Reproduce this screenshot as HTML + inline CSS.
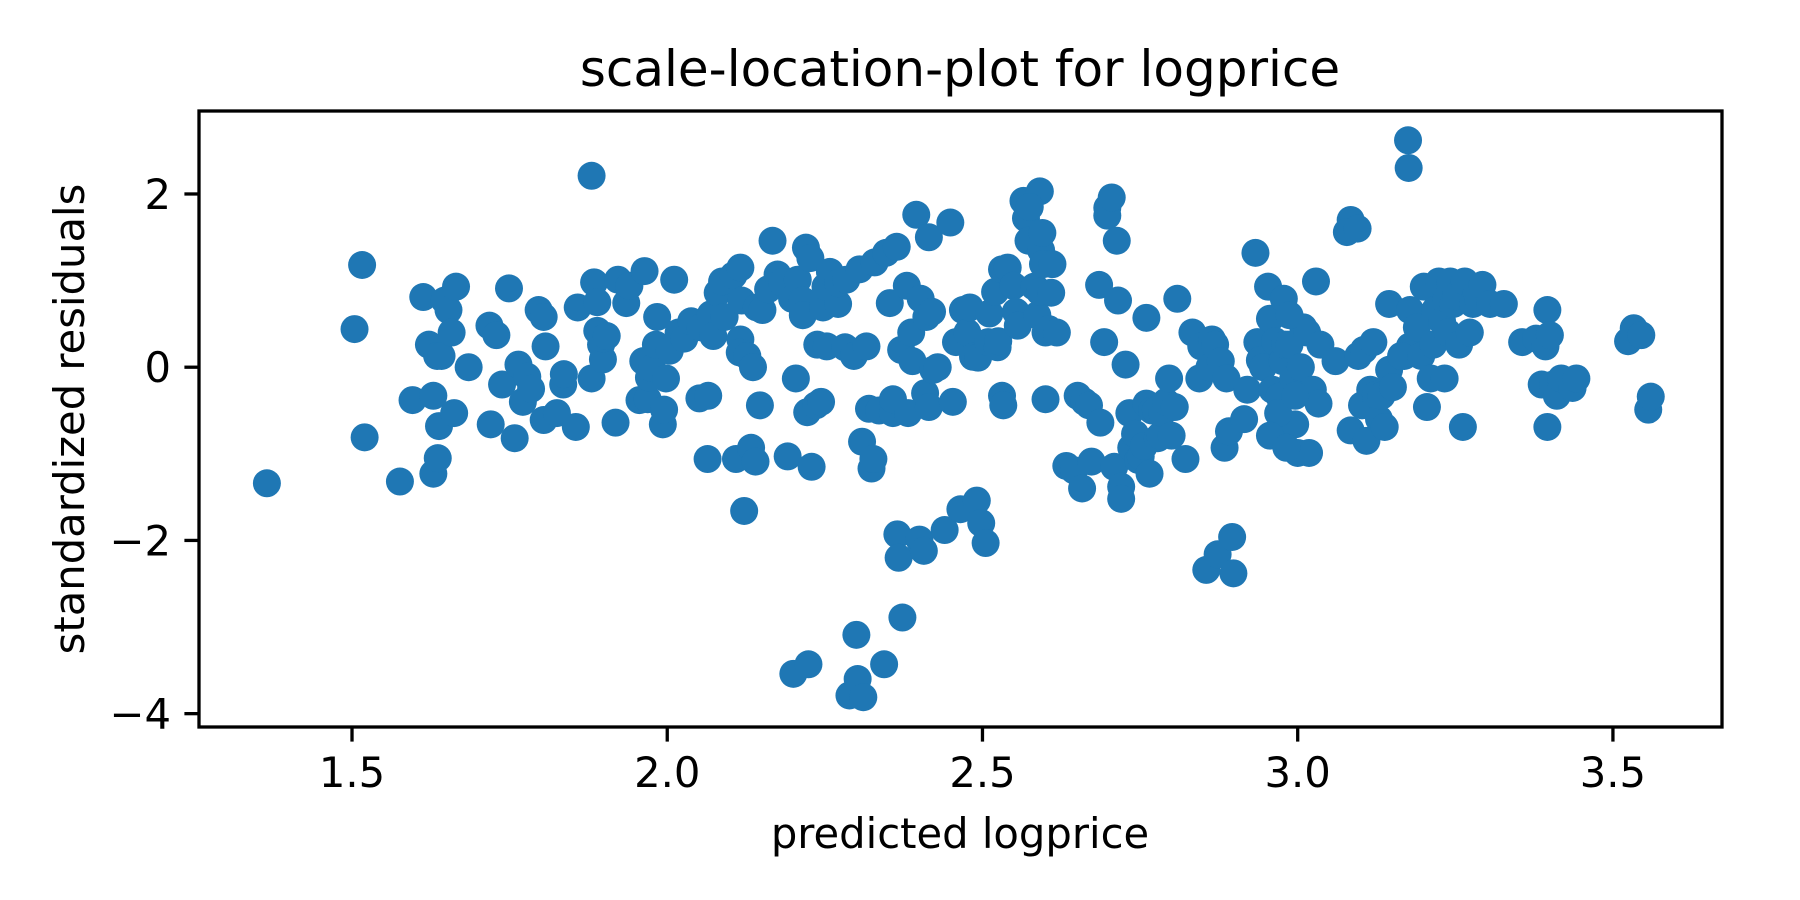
<!DOCTYPE html>
<html><head><meta charset="utf-8">
<style>
html,body{margin:0;padding:0;background:#fff;}
svg{display:block;font-family:"DejaVu Sans","Liberation Sans",sans-serif;}
</style></head>
<body>
<svg id="chart" width="1800" height="900" viewBox="0 0 1800 900" xmlns="http://www.w3.org/2000/svg">
<rect width="1800" height="900" fill="#fff"/>
<text x="960" y="86" font-size="50" text-anchor="middle">scale-location-plot for logprice</text>
<g id="points"></g>
<g id="axes"></g>
<text x="960" y="848" font-size="41.7" text-anchor="middle">predicted logprice</text>
<text transform="translate(84,419) rotate(-90)" font-size="41.7" text-anchor="middle">standardized residuals</text>
</svg>
<script>
const xTicks = [1.5, 2.0, 2.5, 3.0, 3.5];
const xTickLabels = ["1.5", "2.0", "2.5", "3.0", "3.5"];
const yTicks = [2, 0, -2, -4];
const yTickLabels = ["2", "0", "\u22122", "\u22124"];
const xs = [1.365,1.504,1.516,1.52,1.576,1.596,1.613,1.622,1.629,1.629,1.636,1.635,1.642,1.638,1.647,1.653,1.658,1.662,1.665,1.685,1.718,1.72,1.729,1.738,1.749,1.758,1.764,1.771,1.778,1.784,1.796,1.804,1.807,1.804,1.825,1.835,1.836,1.855,1.858,1.88,1.88,1.884,1.889,1.889,1.895,1.898,1.898,1.904,1.918,1.922,1.935,1.94,1.956,1.964,1.962,1.969,1.971,1.976,1.982,1.984,1.993,1.998,1.995,2.004,2.011,2.018,2.027,2.038,2.051,2.053,2.064,2.065,2.069,2.073,2.08,2.087,2.091,2.105,2.109,2.116,2.116,2.115,2.118,2.122,2.127,2.133,2.136,2.14,2.147,2.142,2.151,2.16,2.167,2.175,2.182,2.191,2.198,2.204,2.207,2.215,2.215,2.22,2.222,2.227,2.229,2.238,2.236,2.244,2.247,2.251,2.253,2.258,2.271,2.271,2.284,2.282,2.296,2.2,2.224,2.289,2.302,2.311,2.3,2.305,2.309,2.316,2.32,2.324,2.327,2.329,2.336,2.344,2.347,2.353,2.358,2.358,2.364,2.365,2.367,2.373,2.371,2.38,2.382,2.387,2.389,2.395,2.4,2.402,2.407,2.409,2.411,2.415,2.415,2.42,2.422,2.429,2.44,2.449,2.453,2.458,2.465,2.469,2.476,2.48,2.485,2.491,2.493,2.498,2.505,2.509,2.511,2.52,2.524,2.525,2.531,2.531,2.533,2.54,2.549,2.553,2.556,2.565,2.569,2.573,2.582,2.587,2.591,2.593,2.595,2.6,2.596,2.6,2.605,2.609,2.611,2.618,2.591,2.575,2.633,2.645,2.651,2.658,2.662,2.673,2.669,2.685,2.687,2.693,2.698,2.698,2.705,2.709,2.713,2.715,2.72,2.72,2.727,2.733,2.736,2.742,2.747,2.751,2.756,2.76,2.76,2.765,2.769,2.775,2.778,2.782,2.785,2.791,2.796,2.8,2.805,2.809,2.822,2.833,2.844,2.847,2.855,2.86,2.864,2.869,2.873,2.878,2.884,2.887,2.891,2.896,2.898,2.915,2.92,2.933,2.936,2.94,2.945,2.953,2.956,2.96,2.964,2.971,2.973,2.976,2.98,2.987,2.993,2.996,3.0,3.005,3.009,3.015,3.018,3.024,3.029,3.033,3.036,2.978,2.987,2.969,2.996,2.956,2.982,3.06,3.084,3.096,3.102,3.105,3.109,3.115,3.12,3.124,3.129,3.133,3.138,3.145,3.169,3.178,3.084,3.078,3.095,3.145,3.151,3.164,3.175,3.176,3.178,3.189,3.196,3.2,3.205,3.211,3.215,3.218,3.224,3.229,3.233,3.236,3.238,3.242,3.247,3.251,3.256,3.262,3.265,3.273,3.278,3.284,3.287,3.293,3.305,3.327,3.356,3.378,3.387,3.393,3.396,3.396,3.4,3.405,3.411,3.418,3.436,3.442,3.524,3.533,3.545,3.556,3.56];
const ys = [-1.34,0.44,1.18,-0.81,-1.32,-0.38,0.81,0.26,-0.33,-1.23,-1.05,0.13,0.13,-0.68,0.77,0.66,0.40,-0.53,0.93,0.0,0.48,-0.66,0.37,-0.2,0.91,-0.82,0.03,-0.4,-0.11,-0.25,0.66,0.58,0.24,-0.61,-0.53,-0.2,-0.08,-0.69,0.69,-0.13,2.21,0.98,0.75,0.42,0.26,0.09,0.33,0.36,-0.64,1.01,0.74,0.94,-0.38,1.11,0.07,-0.37,-0.12,-0.01,0.26,0.58,-0.66,-0.13,-0.49,0.19,1.01,0.4,0.33,0.53,-0.36,0.46,-1.06,-0.33,0.61,0.36,0.86,0.99,0.58,1.06,-1.06,0.32,1.15,0.17,0.77,-1.66,0.13,-0.93,0.0,-1.09,-0.44,0.69,0.66,0.9,1.46,1.07,0.98,-1.03,0.79,-0.13,1.01,0.77,0.6,1.38,-0.52,1.26,-1.15,0.26,-0.44,-0.4,0.69,0.93,0.24,1.1,0.73,0.97,1.01,0.23,0.13,-3.54,-3.43,-3.79,-3.6,-3.81,-3.09,1.13,-0.86,0.24,-0.48,-1.17,-1.06,1.21,-0.5,-3.43,1.32,0.74,-0.53,-0.37,1.39,-1.93,-2.2,-2.89,0.2,0.94,-0.53,0.4,0.07,1.76,-1.99,0.79,-2.12,-0.3,0.58,1.5,-0.46,0.64,-0.03,0.0,-1.88,1.67,-0.4,0.29,-1.64,0.66,0.4,0.69,0.12,-1.54,0.11,-1.8,-2.03,0.29,0.62,0.87,0.23,0.3,1.13,-0.33,-0.44,1.15,0.94,0.64,0.48,1.92,1.72,1.46,0.93,0.6,0.87,1.35,1.55,0.4,1.19,-0.37,0.44,0.86,1.19,0.4,2.03,1.85,-1.14,-1.19,-0.33,-1.4,-0.4,-1.09,-0.44,0.95,-0.64,0.29,1.84,1.75,1.96,-1.15,1.46,0.77,-1.38,-1.52,0.03,-0.53,-0.93,-0.77,-1.07,-1.03,-0.91,0.57,-0.42,-1.23,-0.5,-0.5,-0.82,-0.79,-0.53,-0.4,-0.13,-0.79,-0.46,0.79,-1.06,0.4,-0.13,0.24,-2.34,0.0,0.32,0.26,-2.16,0.07,-0.93,-0.13,-0.74,-1.96,-2.38,-0.6,-0.26,1.32,0.29,0.08,0.0,0.93,0.56,-0.26,0.3,-0.34,-0.79,0.07,0.26,0.26,-0.13,-0.66,-0.99,0.0,0.46,0.4,-0.99,-0.26,0.99,-0.42,0.26,0.79,0.6,-0.53,-0.33,-0.79,-0.93,0.07,-0.73,0.13,-0.44,0.2,-0.85,-0.26,0.29,-0.32,-0.6,-0.33,-0.69,-0.03,0.13,0.24,1.7,1.56,1.6,0.73,-0.23,0.13,2.62,2.3,0.66,0.46,0.13,0.93,-0.46,-0.13,0.26,0.66,0.99,0.53,-0.13,0.79,0.4,0.99,0.73,0.82,0.26,-0.69,0.99,0.4,0.73,0.86,0.77,0.95,0.73,0.73,0.29,0.33,-0.2,0.24,-0.69,0.66,0.37,-0.2,-0.33,-0.13,-0.24,-0.13,0.3,0.45,0.37,-0.49,-0.34];

const NS = "http://www.w3.org/2000/svg";
const L = 199, R = 1722, T = 111, B = 727;
const XMIN = 1.2573, XMAX = 3.673, YMIN = -4.154, YMAX = 2.958;
function sx(v){ return L + (v - XMIN) / (XMAX - XMIN) * (R - L); }
function sy(v){ return B - (v - YMIN) / (YMAX - YMIN) * (B - T); }
function mk(tag, attrs){ const e = document.createElementNS(NS, tag); for (const k in attrs) e.setAttribute(k, attrs[k]); return e; }

const pg = document.getElementById('points');
for (let i = 0; i < xs.length; i++) {
  const c = mk('circle', {cx: sx(xs[i]), cy: sy(ys[i]), r: 14, fill: '#1f77b4'});
  
  
  pg.appendChild(c);
}

const ag = document.getElementById('axes');
const frame = mk('rect', {x: L, y: T, width: R - L, height: B - T, fill: 'none', stroke: '#000', 'stroke-width': 3.3});


ag.appendChild(frame);

xTicks.forEach((v, i) => {
  const x = sx(v);
  const t = mk('line', {x1: x, x2: x, y1: B, y2: B + 14.6, stroke: '#000', 'stroke-width': 3.3});
  
  
  ag.appendChild(t);
  const lb = mk('text', {x: x, y: B + 60, 'font-size': 41.7, 'text-anchor': 'middle'});
  lb.textContent = xTickLabels[i];
  
  
  ag.appendChild(lb);
});
yTicks.forEach((v, i) => {
  const y = sy(v);
  const t = mk('line', {x1: L - 14.6, x2: L, y1: y, y2: y, stroke: '#000', 'stroke-width': 3.3});
  
  
  ag.appendChild(t);
  const lb = mk('text', {x: L - 28, y: y + 15, 'font-size': 41.7, 'text-anchor': 'end'});
  lb.textContent = yTickLabels[i];
  
  
  ag.appendChild(lb);
});
</script>
</body></html>
